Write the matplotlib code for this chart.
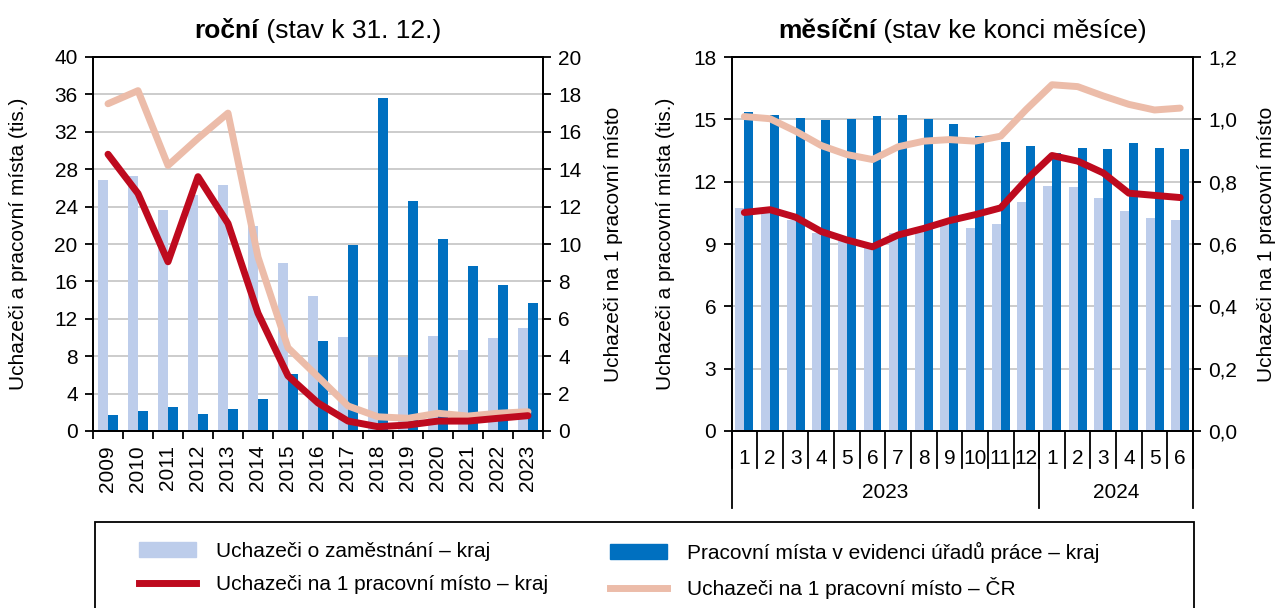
import numpy as np
import matplotlib
matplotlib.use('Agg')
import matplotlib.pyplot as plt
from matplotlib.patches import Rectangle, Patch
from matplotlib.lines import Line2D
from matplotlib.ticker import FuncFormatter

plt.rcParams['font.family'] = ['Liberation Sans', 'DejaVu Sans']
plt.rcParams['font.size'] = 15

# annual data (stav k 31. 12.)
years = ['2009', '2010', '2011', '2012', '2013', '2014', '2015', '2016',
         '2017', '2018', '2019', '2020', '2021', '2022', '2023']
uchazeci_r = [26.8, 27.3, 23.6, 25.2, 26.3, 21.9, 18.0, 14.4, 10.1, 7.9, 7.9, 10.2, 8.7, 9.9, 11.0]
mista_r = [1.7, 2.1, 2.6, 1.8, 2.3, 3.4, 6.1, 9.6, 19.9, 35.6, 24.6, 20.5, 17.6, 15.6, 13.7]
na1_kraj_r = [14.8, 12.7, 9.05, 13.6, 11.1, 6.3, 2.95, 1.5, 0.53, 0.23, 0.32, 0.53, 0.53, 0.68, 0.82]
na1_cr_r = [17.5, 18.2, 14.2, 15.65, 17.0, 9.3, 4.45, 2.9, 1.34, 0.76, 0.68, 0.95, 0.8, 0.95, 1.03]

# monthly data (stav ke konci mesice)
months = ['1', '2', '3', '4', '5', '6', '7', '8', '9', '10', '11', '12',
          '1', '2', '3', '4', '5', '6']
month_years = ['2023', '2024']
months_per_year = [12, 6]
uchazeci_m = [10.74, 10.7, 10.16, 9.55, 9.16, 8.87, 9.52, 9.68, 9.92, 9.76, 9.95, 11.03,
              11.81, 11.76, 11.23, 10.58, 10.26, 10.15]
mista_m = [15.37, 15.23, 15.08, 14.95, 15.03, 15.16, 15.19, 15.03, 14.77, 14.21, 13.90, 13.71,
           13.4, 13.6, 13.56, 13.87, 13.6, 13.56]
na1_kraj_m = [0.701, 0.71, 0.686, 0.64, 0.613, 0.591, 0.629, 0.65, 0.675, 0.694, 0.716, 0.806,
              0.884, 0.866, 0.828, 0.763, 0.756, 0.749]
na1_cr_m = [1.009, 1.002, 0.962, 0.916, 0.887, 0.871, 0.912, 0.93, 0.935, 0.93, 0.946, 1.032,
            1.111, 1.105, 1.075, 1.048, 1.03, 1.036]

light = '#BDCDEB'
dark = '#0070C0'
red = '#BE0A1E'
pink = '#ECBCA9'
grid_c = '#C4C4C4'

W, H = 1275, 608
fig = plt.figure(figsize=(W / 100, H / 100), dpi=100)

ax1 = fig.add_axes([93 / W, 1 - 431 / H, 450 / W, 374 / H])
ax3 = fig.add_axes([731.5 / W, 1 - 431 / H, 461.5 / W, 374 / H])


def style(ax):
    for s in ax.spines.values():
        s.set_linewidth(1.3)
        s.set_color('black')
    ax.set_axisbelow(True)
    ax.yaxis.grid(True, color=grid_c, lw=1.2)
    ax.tick_params(axis='y', direction='out', length=6, width=1.3, pad=5)


# ---- left: annual ----
x = np.arange(len(years))
w = 1 / 3
ax1.bar(x - w / 2, uchazeci_r, w, color=light)
ax1.bar(x + w / 2, mista_r, w, color=dark)
ax1.set_xlim(-0.5, len(years) - 0.5)
ax1.set_ylim(0, 40)
ax1.set_yticks(range(0, 41, 4))
style(ax1)
ax1.set_xticks(x)
ax1.set_xticklabels(years, rotation=90, va='top')
ax1.set_xticks(np.arange(len(years) + 1) - 0.5, minor=True)
ax1.tick_params(axis='x', which='major', length=0, pad=10)
ax1.tick_params(axis='x', which='minor', length=6, width=1.3, direction='out')
ax1.set_ylabel('Uchazeči a pracovní místa (tis.)')
ax1.yaxis.set_label_coords(-0.144, 0.5)

ax2 = ax1.twinx()
ax2.plot(x, na1_cr_r, color=pink, lw=5, solid_capstyle='round', solid_joinstyle='round')
ax2.plot(x, na1_kraj_r, color=red, lw=5, solid_capstyle='round', solid_joinstyle='round')
ax2.set_ylim(0, 20)
ax2.set_yticks(range(0, 21, 2))
ax2.tick_params(axis='y', direction='out', length=6, width=1.3, pad=5)
for s in ax2.spines.values():
    s.set_linewidth(1.3)
ax2.set_ylabel('Uchazeči na 1 pracovní místo', rotation=90)
ax2.yaxis.set_label_coords(1.136, 0.5)

# ---- right: monthly ----
xm = np.arange(len(months))
wm = 0.35
ax3.bar(xm - wm / 2, uchazeci_m, wm, color=light)
ax3.bar(xm + wm / 2, mista_m, wm, color=dark)
ax3.set_xlim(-0.5, len(months) - 0.5)
ax3.set_ylim(0, 18)
ax3.set_yticks(range(0, 19, 3))
style(ax3)
ax3.set_xticks(xm)
ax3.set_xticklabels(months)
ax3.tick_params(axis='x', length=0, pad=13)
ax3.set_ylabel('Uchazeči a pracovní místa (tis.)')
ax3.yaxis.set_label_coords(-0.122, 0.5)

# multi-level category axis separators
tr = ax3.get_xaxis_transform()
h1 = (468 - 431) / 374
h2 = (508 - 431) / 374
for b in np.arange(len(months) + 1) - 0.5:
    ax3.plot([b, b], [0, -h1], transform=tr, color='black', lw=1.3, clip_on=False)
start = -0.5
for yr, n in zip(month_years, months_per_year):
    ax3.plot([start, start], [0, -h2], transform=tr, color='black', lw=1.3, clip_on=False)
    ax3.text(start + n / 2, -(493 - 431) / 374, yr, transform=tr, ha='center', va='center')
    start += n
ax3.plot([start, start], [0, -h2], transform=tr, color='black', lw=1.3, clip_on=False)

ax4 = ax3.twinx()
ax4.plot(xm, na1_cr_m, color=pink, lw=5, solid_capstyle='round', solid_joinstyle='round')
ax4.plot(xm, na1_kraj_m, color=red, lw=5, solid_capstyle='round', solid_joinstyle='round')
ax4.set_ylim(0, 1.2)
ax4.set_yticks(np.arange(0, 1.21, 0.2))
ax4.yaxis.set_major_formatter(FuncFormatter(lambda v, p: f'{v:.1f}'.replace('.', ',')))
ax4.tick_params(axis='y', direction='out', length=6, width=1.3, pad=5)
for s in ax4.spines.values():
    s.set_linewidth(1.3)
ax4.set_ylabel('Uchazeči na 1 pracovní místo', rotation=90)
ax4.yaxis.set_label_coords(1.139, 0.5)


# titles: bold part + normal part, centred above each plot
def title(ax, bold, rest):
    pos = ax.get_position()
    cx = (pos.x0 + pos.x1) / 2
    y = 1 - 38 / H
    t1 = fig.text(cx, y, bold, weight='bold', fontsize=19, ha='left', va='baseline')
    t2 = fig.text(cx, y, rest, fontsize=19, ha='left', va='baseline')
    fig.canvas.draw()
    r = fig.canvas.get_renderer()
    w1 = t1.get_window_extent(r).width / W
    w2 = t2.get_window_extent(r).width / W
    t1.set_x(cx - (w1 + w2) / 2)
    t2.set_x(cx - (w1 + w2) / 2 + w1)


title(ax1, 'roční', ' (stav k 31. 12.)')
title(ax3, 'měsíční', ' (stav ke konci měsíce)')

# legend box (cut at the bottom like the original)
fig.patches.append(Rectangle((95 / W, -0.05), (1194 - 95) / W, (608 - 521.5) / H + 0.05,
                             transform=fig.transFigure, fill=False, edgecolor='black', lw=1.3))

h_light = Patch(color=light)
h_dark = Patch(color=dark)
h_red = Line2D([], [], color=red, lw=5)
h_pink = Line2D([], [], color=pink, lw=5)
leg_kw = dict(loc='upper left', frameon=False, borderpad=0, borderaxespad=0,
              handlelength=2.75, handleheight=0.7, handletextpad=0.95, labelspacing=0.68,
              fontsize=15)
fig.legend([h_light, h_red], ['Uchazeči o zaměstnání – kraj',
                              'Uchazeči na 1 pracovní místo – kraj'],
           bbox_to_anchor=(139 / W, 1 - 542 / H), **leg_kw)
fig.legend([h_dark, h_pink], ['Pracovní místa v evidenci úřadů práce – kraj',
                              'Uchazeči na 1 pracovní místo – ČR'],
           bbox_to_anchor=(610 / W, 1 - 542 / H), **leg_kw)

fig.savefig('out.png', dpi=100)
